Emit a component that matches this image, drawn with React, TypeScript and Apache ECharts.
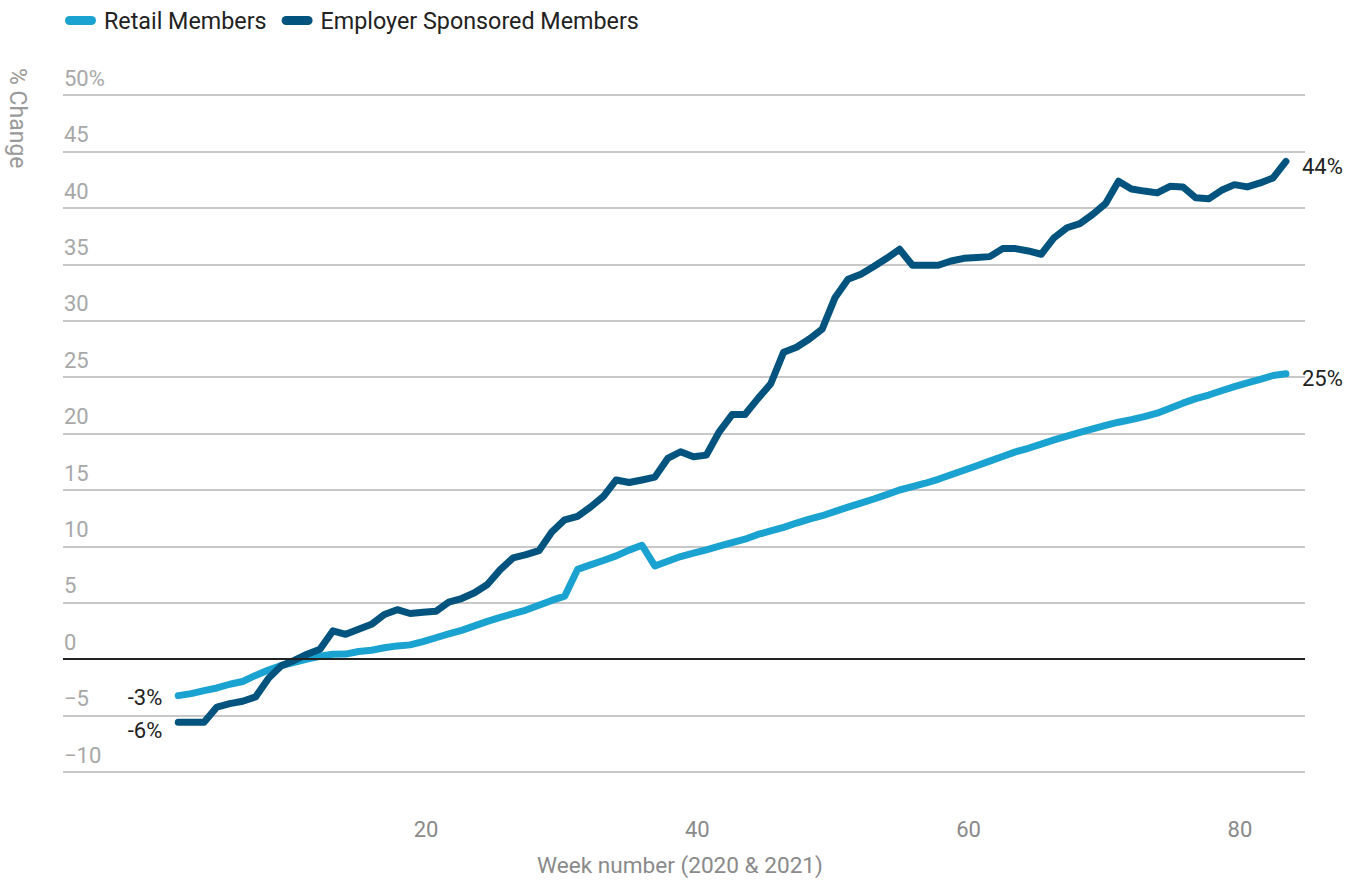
import { useEffect, useRef } from "react";
import * as echarts from "echarts";

// Percent change in members, one sample per reporting period
const seriesNames = ["Retail Members", "Employer Sponsored Members"];

const retail = [
  -3.23, -3.05, -2.79, -2.55, -2.22, -1.98, -1.44, -0.96, -0.56, -0.27,
  0.01, 0.26, 0.44, 0.45, 0.68, 0.79, 1.02, 1.18, 1.27, 1.55,
  1.9, 2.24, 2.56, 2.95, 3.35, 3.71, 4.04, 4.36, 4.79, 5.21,
  5.59, 7.96, 8.36, 8.75, 9.16, 9.67, 10.1, 8.27, 8.69, 9.1,
  9.41, 9.7, 10.02, 10.34, 10.64, 11.06, 11.37, 11.69, 12.07, 12.42,
  12.72, 13.1, 13.48, 13.84, 14.2, 14.59, 15.0, 15.29, 15.6, 15.95,
  16.35, 16.75, 17.15, 17.56, 17.97, 18.38, 18.7, 19.07, 19.44, 19.78,
  20.11, 20.42, 20.72, 21.01, 21.24, 21.5, 21.81, 22.25, 22.7, 23.1,
  23.42, 23.8, 24.17, 24.5, 24.81, 25.15, 25.3,
];

const employer = [
  -5.6, -5.6, -5.6, -4.24, -3.94, -3.73, -3.34, -1.7, -0.58, -0.11,
  0.44, 0.88, 2.51, 2.21, 2.65, 3.09, 3.96, 4.39, 4.05, 4.17,
  4.25, 5.05, 5.38, 5.89, 6.62, 7.94, 8.98, 9.27, 9.62, 11.27,
  12.36, 12.66, 13.48, 14.42, 15.89, 15.66, 15.89, 16.14, 17.8, 18.39,
  17.95, 18.09, 20.16, 21.69, 21.69, 23.1, 24.42, 27.22, 27.66, 28.39,
  29.28, 32.07, 33.69, 34.13, 34.81, 35.54, 36.34, 34.92, 34.92, 34.92,
  35.3, 35.54, 35.61, 35.69, 36.4, 36.4, 36.19, 35.9, 37.37, 38.25,
  38.61, 39.43, 40.4, 42.37, 41.69, 41.5, 41.34, 41.92, 41.87, 40.9,
  40.81, 41.57, 42.07, 41.87, 42.22, 42.67, 44.13,
];

const weekTicks = [20, 40, 60, 80];
const colors = ["#1aa3d1", "#02547e"];

const FONT = "Roboto, 'Noto Sans', sans-serif";
const PILL = "path://M4.5,0 H26.5 A4.5,4.5 0 0 1 26.5,9 H4.5 A4.5,4.5 0 0 1 4.5,0 Z";

const pct = (v: number) => `${Math.round(v)}%`;
const pairs = (vals: number[]) => vals.map((v, i) => [i, v]);

function lineSeries(name: string, vals: number[], color: string, startOffset: number) {
  return {
    name,
    type: "line",
    xAxisIndex: 1,
    yAxisIndex: 0,
    data: pairs(vals),
    color,
    symbol: "none",
    showSymbol: false,
    silent: true,
    lineStyle: { width: 7, color, cap: "round", join: "round" },
    endLabel: {
      show: true,
      formatter: (p: any) => pct(Array.isArray(p.value) ? p.value[1] : p.value),
      distance: 16,
      offset: [0, 5],
      color: "#222",
      fontSize: 22,
      fontFamily: FONT,
    },
    markPoint: {
      silent: true,
      symbol: "circle",
      symbolSize: 0,
      label: {
        show: true,
        position: "left",
        distance: 16,
        offset: [0, startOffset],
        formatter: (p: any) => pct(p.value),
        color: "#222",
        fontSize: 22,
        fontFamily: FONT,
      },
      data: [{ coord: [0, vals[0]], value: vals[0] }],
    },
  };
}

export default function App() {
  const ref = useRef<HTMLDivElement>(null);

  useEffect(() => {
    if (!ref.current) return;
    const chart = echarts.init(ref.current, null, { renderer: "svg" });
    const option = {
      animation: false,
      backgroundColor: "#fff",
      textStyle: { fontFamily: FONT },
      legend: {
        data: seriesNames,
        left: 60,
        top: 4,
        icon: PILL,
        itemWidth: 31,
        itemHeight: 9,
        itemGap: 15,
        selectedMode: false,
        textStyle: { fontSize: 23.3, color: "#222", fontFamily: FONT, padding: [0, 0, 0, 3] },
      },
      grid: { left: 63, right: 59, top: 95.2, bottom: 107, containLabel: false },
      xAxis: [
        {
          type: "value",
          gridIndex: 0,
          min: -6.76,
          max: 84.8,
          axisLine: { show: false },
          axisTick: { show: false },
          splitLine: { show: false },
          axisLabel: {
            customValues: weekTicks,
            margin: 46,
            color: "#8a8a8a",
            fontSize: 22,
            fontFamily: FONT,
          },
          name: "Week number (2020 & 2021)",
          nameLocation: "middle",
          nameGap: 82,
          nameTextStyle: { color: "#8a8a8a", fontSize: 22.6, fontFamily: FONT, padding: [0, 8, 0, 0] },
        },
        {
          type: "value",
          gridIndex: 0,
          min: -8.95,
          max: 87.48,
          show: false,
        },
      ],
      yAxis: [
        {
          type: "value",
          min: -10,
          max: 50,
          interval: 5,
          axisLine: { show: false },
          axisTick: { show: false },
          axisLabel: {
            inside: true,
            margin: 1,
            verticalAlign: "bottom",
            lineHeight: 22,
            padding: [0, 0, 6, 0],
            color: "#a8a8a8",
            fontSize: 22,
            fontFamily: FONT,
            formatter: (v: number) =>
              v === 50 ? "50%" : v < 0 ? `\u2212${-v}` : String(v),
          },
          splitLine: { lineStyle: { color: "#c8c8c8", width: 2 } },
        },
      ],
      graphic: [
        {
          type: "text",
          x: 17,
          y: 68,
          rotation: -Math.PI / 2,
          style: {
            text: "% Change",
            textAlign: "left",
            textVerticalAlign: "middle",
            fill: "#9a9a9a",
            fontSize: 23,
            fontFamily: FONT,
          },
        },
      ],
      series: [
        lineSeries(seriesNames[0], retail, colors[0], 2),
        lineSeries(seriesNames[1], employer, colors[1], 8),
        {
          type: "line",
          xAxisIndex: 0,
          yAxisIndex: 0,
          data: [],
          silent: true,
          markLine: {
            silent: true,
            symbol: "none",
            label: { show: false },
            lineStyle: { color: "#222", width: 2, type: "solid" },
            data: [{ yAxis: 0 }],
          },
          z: 1,
        },
      ],
    };
    chart.setOption(option as any);
    return () => chart.dispose();
  }, []);

  return (
    <div
      ref={ref}
      style={{ position: "fixed", left: 0, top: 0, width: 1364, height: 882, background: "#fff" }}
    />
  );
}
